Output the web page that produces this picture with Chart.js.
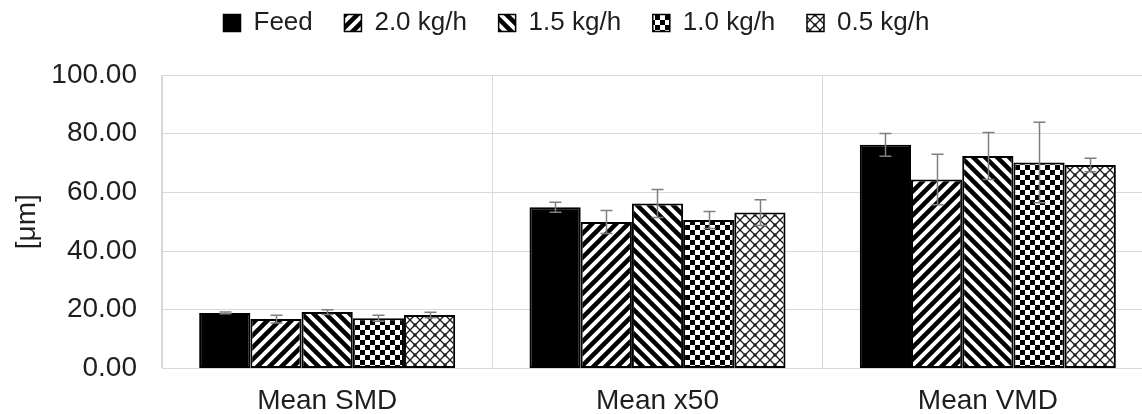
<!DOCTYPE html>
<html>
<head>
<meta charset="utf-8">
<script src="https://cdn.jsdelivr.net/npm/chart.js@4.4.1/dist/chart.umd.min.js"></script>
<style>
  html, body { margin: 0; padding: 0; background: #ffffff; overflow: hidden; }
  #wrap { width: 1160px; height: 414px; position: relative; }
</style>
</head>
<body>
<div id="wrap"><canvas id="chart"></canvas></div>
<script>
// Particle size statistics per feed rate
const categories = ['Mean SMD', 'Mean x50', 'Mean VMD'];
const seriesLabels = ['Feed', '2.0 kg/h', '1.5 kg/h', '1.0 kg/h', '0.5 kg/h'];

const feedValues = [18.9, 54.9, 76.2];
const feedErrors = [0.3, 1.7, 3.9];
const rate20Values = [16.8, 49.9, 64.4];
const rate20Errors = [1.3, 3.9, 8.6];
const rate15Values = [19.2, 56.2, 72.4];
const rate15Errors = [0.8, 4.8, 8.0];
const rate10Values = [17.1, 50.6, 70.2];
const rate10Errors = [1.0, 2.9, 13.7];
const rate05Values = [18.2, 53.1, 69.3];
const rate05Errors = [0.9, 4.4, 2.3];

const yTicks = [0, 20, 40, 60, 80, 100];

const FONT = '"Liberation Sans", Arial, sans-serif';
const TEXT = '#1e1e1e';
const GRID = '#d9d9d9';

// ---- fill patterns ----
function tile(size, draw) {
  const c = document.createElement('canvas');
  c.width = size; c.height = size;
  const g = c.getContext('2d');
  g.fillStyle = '#ffffff';
  g.fillRect(0, 0, size, size);
  draw(g, size);
  return document.createElement('canvas').getContext('2d').createPattern(c, 'repeat');
}

function stripes(up) {
  return tile(12, (g, s) => {
    g.strokeStyle = '#000';
    g.lineWidth = 4.5;
    g.beginPath();
    for (let k = -2; k <= 2; k++) {
      if (up) { g.moveTo(k * s - s, s * 2); g.lineTo(k * s + s * 2, -s); }
      else { g.moveTo(k * s - s, -s); g.lineTo(k * s + s * 2, s * 2); }
    }
    g.stroke();
  });
}

const checker = tile(10, (g, s) => {
  g.fillStyle = '#000';
  g.fillRect(0, 0, s / 2, s / 2);
  g.fillRect(s / 2, s / 2, s / 2, s / 2);
});

const lattice = tile(10, (g, s) => {
  g.strokeStyle = '#1a1a1a';
  g.lineWidth = 1.3;
  g.beginPath();
  g.moveTo(0, 0); g.lineTo(s, s);
  g.moveTo(s, 0); g.lineTo(0, s);
  g.stroke();
  g.fillStyle = '#1a1a1a';
  g.fillRect(s / 2 - 1.5, s / 2 - 1.5, 3, 3);
});

const fills = ['#000000', stripes(true), stripes(false), checker, lattice];
const valueSets = [feedValues, rate20Values, rate15Values, rate10Values, rate05Values];
const errorSets = [feedErrors, rate20Errors, rate15Errors, rate10Errors, rate05Errors];

// ---- error bars drawn on top of the bars ----
const errorBars = {
  id: 'errorBars',
  afterDatasetsDraw(chart) {
    const ctx = chart.ctx;
    const y = chart.scales.y;
    ctx.save();
    ctx.strokeStyle = '#7f7f7f';
    ctx.lineWidth = 1.5;
    chart.data.datasets.forEach((ds, di) => {
      const meta = chart.getDatasetMeta(di);
      meta.data.forEach((bar, i) => {
        const v = ds.data[i], e = ds.errors[i];
        const x = Math.round(bar.x) + 0.5;
        const top = y.getPixelForValue(v + e);
        const bot = y.getPixelForValue(v - e);
        ctx.beginPath();
        ctx.moveTo(x, top); ctx.lineTo(x, bot);
        ctx.moveTo(x - 6, top); ctx.lineTo(x + 6, top);
        ctx.moveTo(x - 6, bot); ctx.lineTo(x + 6, bot);
        ctx.stroke();
      });
    });
    ctx.restore();
  }
};

// ---- extra room between legend and plot ----
const legendGap = {
  id: 'legendGap',
  beforeLayout(chart) {
    const lg = chart.legend;
    if (lg && !lg._gapPatched) {
      const fit = lg.fit.bind(lg);
      lg.fit = function () { fit(); this.height += 29; };
      lg._gapPatched = true;
    }
  }
};

const datasets = seriesLabels.map((label, i) => ({
  label,
  data: valueSets[i],
  errors: errorSets[i],
  backgroundColor: fills[i],
  borderColor: '#000000',
  borderWidth: 2,
  borderSkipped: false,
  categoryPercentage: 0.775,
  barPercentage: 1.0
}));

new Chart(document.getElementById('chart'), {
  type: 'bar',
  data: { labels: categories, datasets },
  plugins: [errorBars, legendGap],
  options: {
    responsive: true,
    maintainAspectRatio: false,
    animation: false,
    layout: { padding: { left: 0, right: 7, top: 0, bottom: -20 } },
    plugins: {
      tooltip: { enabled: false },
      legend: {
        position: 'top',
        labels: {
          color: TEXT,
          font: { family: FONT, size: 26 },
          boxWidth: 17,
          boxHeight: 17,
          padding: 10,
          generateLabels(chart) {
            const items = Chart.defaults.plugins.legend.labels.generateLabels(chart);
            items.forEach((it, i) => {
              it.lineWidth = 1.5;
              if (i < items.length - 1) it.text = it.text + '\u2002\u2004';
            });
            return items;
          }
        }
      }
    },
    scales: {
      x: {
        grid: { color: GRID, lineWidth: 1, drawTicks: false, offset: true },
        border: { color: GRID, width: 1 },
        ticks: { color: TEXT, font: { family: FONT, size: 28 }, padding: 16 }
      },
      y: {
        min: 0,
        max: 100,
        afterBuildTicks(scale) { scale.ticks = yTicks.map(v => ({ value: v })); },
        afterFit(scale) { scale.width = 162; },
        grid: { color: GRID, lineWidth: 1, drawTicks: false },
        border: { color: GRID, width: 1 },
        ticks: {
          color: TEXT,
          font: { family: FONT, size: 28 },
          padding: 25,
          callback: v => Number(v).toFixed(2)
        },
        title: {
          display: true,
          text: '[μm]',
          color: TEXT,
          font: { family: FONT, size: 28 },
          padding: { top: 10, bottom: 0 }
        }
      }
    }
  }
});
</script>
</body>
</html>
